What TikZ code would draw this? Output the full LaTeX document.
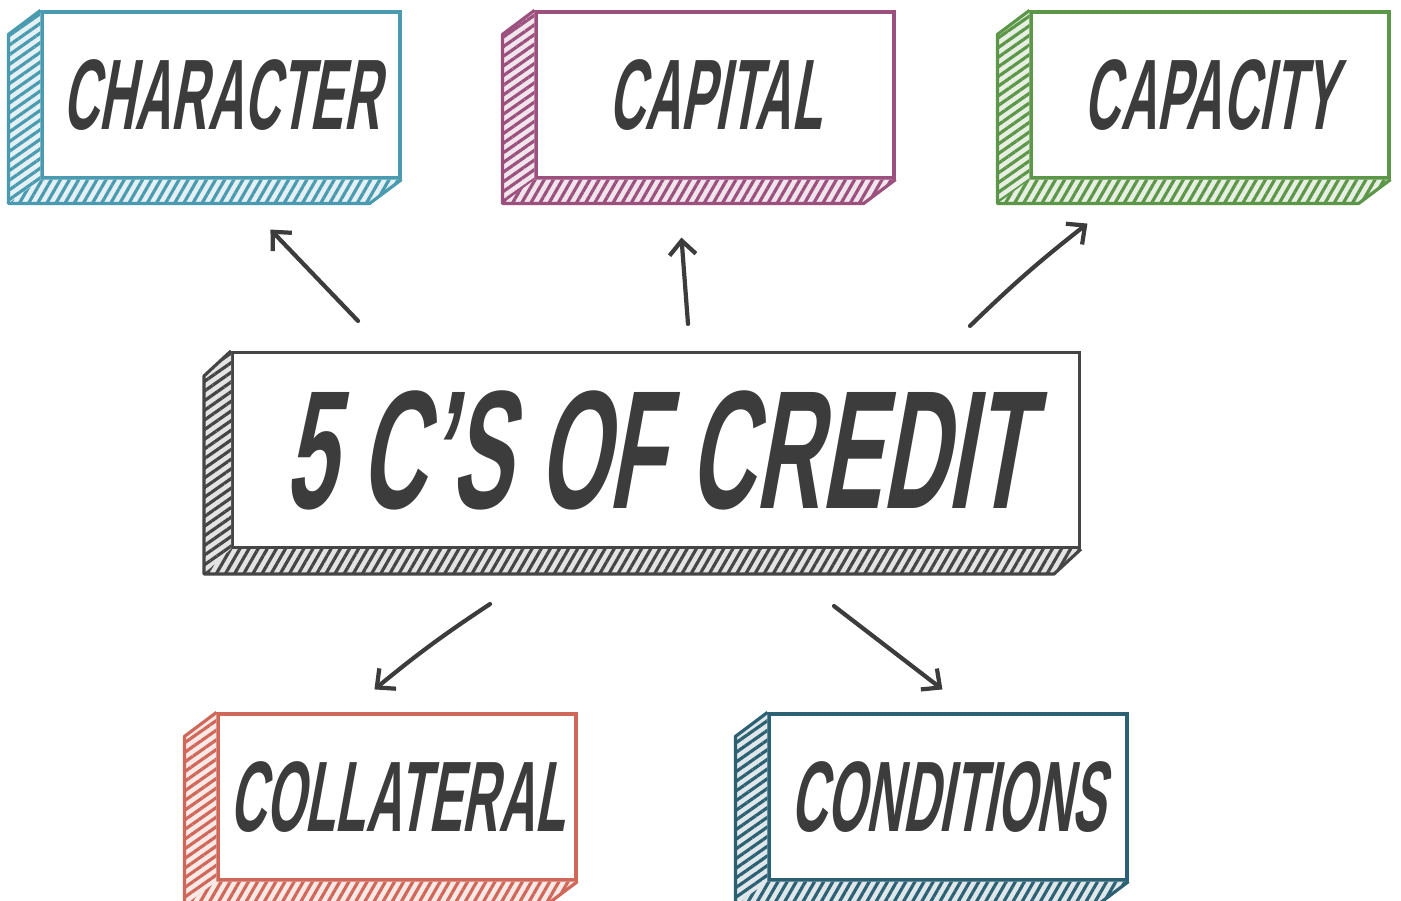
\documentclass[tikz,border=0pt]{standalone}
\usepackage{fontspec}
\newfontfamily\slabfont[FakeStretch=0.5,FakeSlant=0.18]{Liberation Sans}
\newfontfamily\titlefont[FakeStretch=0.54,FakeSlant=0.18]{Liberation Sans}
\usetikzlibrary{arrows.meta, calc, patterns.meta}

\definecolor{charcol}{HTML}{4A9BB0}
\definecolor{capcol}{HTML}{9B507D}
\definecolor{capacol}{HTML}{5C9648}
\definecolor{collcol}{HTML}{D0685A}
\definecolor{condcol}{HTML}{2C6073}
\definecolor{credcol}{HTML}{454545}
\definecolor{inkgray}{HTML}{3C3C3C}

\tikzset{
  slab/.style={draw=#1, line width=1.8pt, fill=white, inner sep=0pt,
    minimum width=7.16cm, minimum height=3.32cm, text=inkgray,
    font=\slabfont\bfseries\fontsize{57}{60}\selectfont},
  arr/.style={-{Straight Barb[length=8pt,width=15pt]}, line width=2.4pt,
    draw=inkgray, line cap=round, line join=round},
}

% hatched left and bottom faces behind a slab node: node, colour, depth
\newcommand{\extrude}[3]{%
  \fill[#2!15] (#1.north west) -- ++(#3) -- ($(#1.south west)+(#3)$)
    -- ($(#1.south east)+(#3)$) -- (#1.south east) -- (#1.south west) -- cycle;
  \fill[pattern={Lines[angle=35,distance=4.5pt,line width=1.8pt]}, pattern color=#2]
    (#1.north west) -- ++(#3) -- ($(#1.south west)+(#3)$) -- (#1.south west) -- cycle;
  \fill[pattern={Lines[angle=60,distance=4.5pt,line width=1.8pt]}, pattern color=#2]
    (#1.south west) -- ++(#3) -- ($(#1.south east)+(#3)$) -- (#1.south east) -- cycle;
  \draw[#2, line width=1.8pt, line join=round] (#1.north west) -- ++(#3)
    -- ($(#1.south west)+(#3)$) -- ($(#1.south east)+(#3)$) -- (#1.south east);
}

\begin{document}
\begin{tikzpicture}[x=0.02cm, y=-0.02cm]
  \useasboundingbox (0,0) rectangle (1401,901);

  % the five C's around the centre
  \node[slab=charcol] (char) at (221,95) {CHARACTER};
  \node[slab=capcol] (cap) at (715,95) {CAPITAL};
  \node[slab=capacol] (capa) at (1210,95) {CAPACITY};
  \node[slab=collcol] (coll) at (397,797) {COLLATERAL};
  \node[slab=condcol] (cond) at (948,797) {CONDITIONS};

  % centre box
  \node[slab=credcol, minimum width=16.94cm, minimum height=3.9cm,
    font=\titlefont\bfseries\fontsize{96}{100}\selectfont] (credit) at (656,450) {5 C’S OF CREDIT};

  \extrude{char}{charcol}{-32,24}
  \extrude{cap}{capcol}{-32,24}
  \extrude{capa}{capacol}{-32,24}
  \extrude{coll}{collcol}{-32,24}
  \extrude{cond}{condcol}{-32,24}
  \extrude{credit}{credcol}{-27,25}

  % arrows out of the centre
  \draw[arr] ($(credit.north west)+(127,-30)$) -- ($(char.south west)+(230,50)$);
  \draw[arr] ($(credit.north west)+(457,-27)$) -- ($(cap.south west)+(147,58)$);
  \draw[arr] ($(credit.north west)+(739,-25)$) to[bend left=3] ($(capa.south west)+(58,44)$);
  \draw[arr] ($(credit.south west)+(259,55)$) to[bend right=3] ($(coll.north west)+(158,-23)$);
  \draw[arr] ($(credit.south west)+(603,57)$) -- ($(cond.north west)+(175,-23)$);
\end{tikzpicture}
\end{document}
